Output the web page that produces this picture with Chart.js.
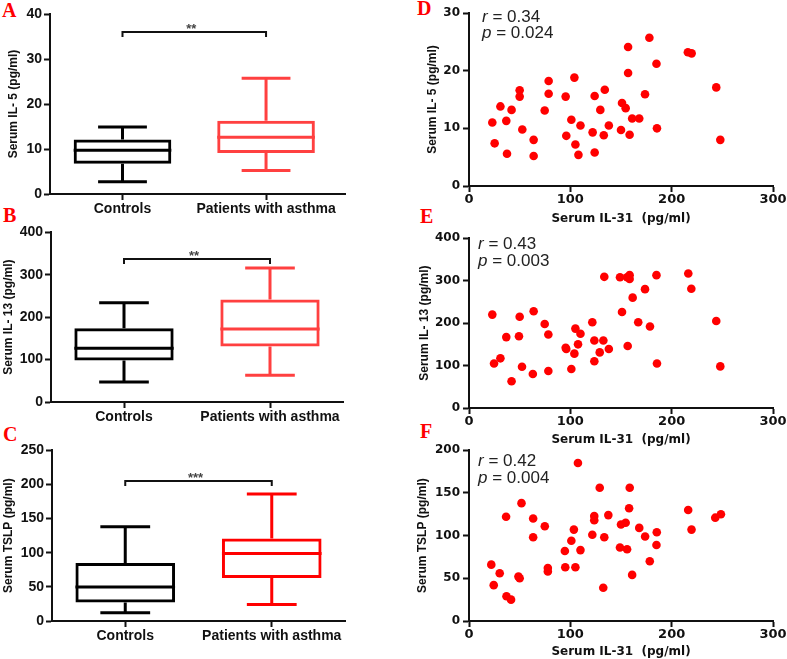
<!DOCTYPE html>
<html><head><meta charset="utf-8">
<script src="https://cdn.jsdelivr.net/npm/chart.js@4/dist/chart.umd.min.js"></script>
<style>
body{margin:0;background:#fff;width:787px;height:659px;position:relative;overflow:hidden}
canvas{position:absolute}
.lt{position:absolute;font:bold 20px "Liberation Serif","Times New Roman",serif;color:#f00;line-height:20px}
</style></head><body>
<div class="lt" style="left:2px;top:0px">A</div>
<div class="lt" style="left:3px;top:205px">B</div>
<div class="lt" style="left:3px;top:424px">C</div>
<div class="lt" style="left:417px;top:-2px">D</div>
<div class="lt" style="left:420px;top:206px">E</div>
<div class="lt" style="left:420px;top:421px">F</div>
<canvas id="cA" width="390" height="215" style="left:0;top:0"></canvas>
<canvas id="cB" width="390" height="210" style="left:0;top:222px"></canvas>
<canvas id="cC" width="390" height="219" style="left:0;top:440px"></canvas>
<canvas id="cD" width="382" height="228" style="left:405px;top:0"></canvas>
<canvas id="cE" width="382" height="220" style="left:405px;top:228px"></canvas>
<canvas id="cF" width="382" height="219" style="left:405px;top:440px"></canvas>
<script>
// ---- data ----
const groups = ['Controls', 'Patients with asthma'];
// [min, q1, median, q3, max]
const il5Controls = [2.7, 6.7, 9.7, 12.1, 14.9];
const il5Patients = [5.2, 9.1, 12.6, 16.3, 25.7];
const il13Controls = [47, 98, 127, 174, 234];
const il13Patients = [63, 131, 172, 242, 316];
const tslpControls = [12, 27, 50, 85, 138];
const tslpPatients = [24, 63, 99, 121, 186];
const sigLabels = ['**', '**', '***'];
const sigLevels = [36, 337, 205];

const boxYTitles = ['Serum IL- 5 (pg/ml)', 'Serum IL- 13 (pg/ml)', 'Serum TSLP (pg/ml)'];
const boxYMax = [40, 400, 250];
const boxYStep = [10, 100, 50];

const il31D = [23,25.3,31,36.8,37.5,42,50,50,52.6,63.8,63.8,74.7,78.6,78.6,95.4,96,101,104,105,108,110,122,124,124,129.6,133,134,138,150,151,154.6,157,157,158.5,161,168,173.7,178,185,185.5,216,219.7,244,248];
const il5D = [11.0,7.4,13.8,11.3,5.6,13.2,16.6,15.5,9.8,8.0,5.2,13.1,18.2,16.0,15.5,8.7,11.5,18.8,7.2,5.4,10.5,9.3,15.6,5.8,13.2,8.8,16.7,10.5,9.7,14.4,13.5,24.1,19.6,8.9,11.7,11.7,15.9,25.7,21.2,10.0,23.2,23.0,17.1,8.0];

const il31E = [23,24.7,31,36.8,42,50,49.3,52.3,63.8,63,74.7,78.3,78.3,95.4,96,101,104,105,107.6,110,121.7,123.7,123.7,129,132.6,133.5,138,149,151,156,156.6,158.5,158.5,161.5,167,173.7,178.6,185,185.5,216.4,219.4,244,248];
const il13E = [220,105,117,167,63,215,169,97,228,80,198,173,87,142,139,92,128,187,150,175,202,159,110,131,159,309,139,308,226,308,146,313,304,260,202,280,192,313,105,317,281,205,98];

const il31F = [22,24.4,30.3,36.6,37,41.5,48.8,50,51.8,63.3,63.3,74.8,77.8,77.8,94.6,95,101,103.5,105,107.5,110,121.7,123.6,123.6,129,132.5,133.5,137.5,149,150,154.6,156,158,158.6,161,168,173.8,178.4,185,185.3,216.3,219.6,243,248.6];
const tslpF = [66,42,56,122,29,25,52,50,138,120,98,111,62,58,82,63,94,107,63,185,83,101,123,118,156,39,98,124,86,113,115,84,132,156,54,109,99,70,89,104,130,107,121,125];

const corrR = ['0.34', '0.43', '0.42'];
const corrP = ['0.024', '0.003', '0.004'];
const scatterYTitles = ['Serum IL- 5 (pg/ml)', 'Serum IL- 13 (pg/ml)', 'Serum TSLP (pg/ml)'];
const scatterYMax = [30, 400, 200];
const scatterYStep = [10, 100, 50];
const scatterXTitle = 'Serum IL-31  (pg/ml)';

// ---- helpers ----
const SANS = '"Liberation Sans", Arial, sans-serif';
const DEJA = '"DejaVu Sans", sans-serif';

const boxPlugin = {
  id: 'boxExtras',
  afterDatasetsDraw(chart, args, o) {
    const {ctx} = chart; const y = chart.scales.y;
    const meta = chart.getDatasetMeta(0);
    o.stats.forEach((s, i) => {
      const bar = meta.data[i]; const cx = bar.x; const w = bar.width;
      ctx.save(); ctx.strokeStyle = o.colors[i]; ctx.lineWidth = 3; ctx.lineCap = 'butt';
      const p = s.map(v => y.getPixelForValue(v));
      ctx.beginPath();
      ctx.moveTo(cx - w / 2, p[2]); ctx.lineTo(cx + w / 2, p[2]);
      ctx.moveTo(cx, p[3]); ctx.lineTo(cx, p[4]);
      ctx.moveTo(cx, p[1]); ctx.lineTo(cx, p[0]);
      ctx.moveTo(cx - w / 4, p[4]); ctx.lineTo(cx + w / 4, p[4]);
      ctx.moveTo(cx - w / 4, p[0]); ctx.lineTo(cx + w / 4, p[0]);
      ctx.stroke(); ctx.restore();
    });
    const x1 = meta.data[0].x, x2 = meta.data[1].x, by = y.getPixelForValue(o.sigLevel);
    ctx.save(); ctx.strokeStyle = '#111'; ctx.lineWidth = 2;
    ctx.beginPath(); ctx.moveTo(x1, by + 5); ctx.lineTo(x1, by); ctx.lineTo(x2, by); ctx.lineTo(x2, by + 5); ctx.stroke();
    ctx.fillStyle = '#444'; ctx.font = 'bold 13px ' + SANS; ctx.textAlign = 'center'; ctx.textBaseline = 'alphabetic';
    ctx.fillText(o.sigLabel, (x1 + x2) / 2 - 3, by + 1);
    ctx.restore();
  }
};

function boxChart(id, idx, ctrl, pat, patColor, lay) {
  new Chart(document.getElementById(id), {
    type: 'bar',
    data: { datasets: [{
      data: [{x: 1, y: [ctrl[1], ctrl[3]]}, {x: 2, y: [pat[1], pat[3]]}],
      backgroundColor: 'rgba(0,0,0,0)', borderColor: ['#000', patColor], borderWidth: 3,
      borderSkipped: false, barPercentage: 0.68, categoryPercentage: 1
    }]},
    options: {
      responsive: false, animation: false, events: [],
      layout: { autoPadding: false, padding: {top: lay.top, left: 0, right: lay.right, bottom: 0} },
      plugins: { legend: {display: false}, tooltip: {enabled: false},
        boxExtras: { stats: [ctrl, pat], colors: ['#000', patColor], sigLevel: sigLevels[idx], sigLabel: sigLabels[idx] } },
      scales: {
        x: { type: 'linear', min: lay.xmin, max: lay.xmax, offset: false,
          afterBuildTicks: s => { s.ticks = [{value: 1}, {value: 2}]; },
          afterFit: s => { s.height = lay.xh; },
          ticks: { callback: v => groups[v - 1], color: '#111', font: {family: SANS, size: 14, weight: 'bold'}, padding: 1, maxRotation: 0, autoSkip: false },
          grid: { display: true, drawOnChartArea: false, drawTicks: true, tickLength: 6, tickWidth: 2, tickColor: '#111', offset: false },
          border: { display: true, color: '#111', width: 2 } },
        y: { min: 0, max: boxYMax[idx],
          afterFit: s => { s.width = lay.yw; },
          ticks: { stepSize: boxYStep[idx], color: '#111', font: {family: SANS, size: 14, weight: 'bold'}, padding: 2 },
          grid: { display: true, drawOnChartArea: false, drawTicks: true, tickLength: 6, tickWidth: 2, tickColor: '#111' },
          border: { display: true, color: '#111', width: 2 },
          title: { display: true, text: boxYTitles[idx], color: '#111', font: {family: SANS, size: 12, weight: 'bold'}, padding: {top: lay.tp, bottom: 0} } }
      }
    },
    plugins: [boxPlugin]
  });
}

boxChart('cA', 0, il5Controls, il5Patients, '#ff4040', {top: 14, right: 45, xh: 21, yw: 50, xmin: 0.495, xmax: 2.55, tp: 6});
boxChart('cB', 1, il13Controls, il13Patients, '#ff4040', {top: 9, right: 47, xh: 30, yw: 51, xmin: 0.5, xmax: 2.5, tp: 1});
boxChart('cC', 2, tslpControls, tslpPatients, '#ff0000', {top: 8, right: 45, xh: 38, yw: 52, xmin: 0.5, xmax: 2.5, tp: 1});

const corrPlugin = {
  id: 'corrText',
  afterDraw(chart, args, o) {
    const {ctx, chartArea: a} = chart;
    ctx.save(); ctx.fillStyle = '#222'; ctx.textBaseline = 'middle'; ctx.textAlign = 'left';
    const line = (letter, rest, x, y) => {
      ctx.font = 'italic 17px ' + SANS; ctx.fillText(letter, x, y);
      const w = ctx.measureText(letter).width;
      ctx.font = '17px ' + SANS; ctx.fillText(' = ' + rest, x + w, y);
    };
    line('r', o.r, a.left + o.dx, a.top + o.dy1);
    line('p', o.p, a.left + o.dx, a.top + o.dy2);
    ctx.restore();
  }
};

function scatterChart(id, idx, xs, ys, lay) {
  new Chart(document.getElementById(id), {
    type: 'scatter',
    data: { datasets: [{ data: xs.map((v, i) => ({x: v, y: ys[i]})),
      backgroundColor: '#ff0000', borderWidth: 0, pointRadius: 4.3 }] },
    options: {
      responsive: false, animation: false, events: [],
      layout: { autoPadding: false, padding: {top: lay.top, left: 0, right: 14, bottom: 0} },
      plugins: { legend: {display: false}, tooltip: {enabled: false},
        corrText: { r: corrR[idx], p: corrP[idx], dx: lay.dx, dy1: lay.dy1, dy2: lay.dy2 } },
      scales: {
        x: { type: 'linear', min: 0, max: 300,
          afterFit: s => { s.height = lay.xh; },
          ticks: { stepSize: 100, color: '#111', font: {family: DEJA, size: 13, weight: 'bold'}, padding: 0, maxRotation: 0 },
          grid: { display: true, drawOnChartArea: false, drawTicks: true, tickLength: 6, tickWidth: 2, tickColor: '#111' },
          border: { display: true, color: '#111', width: 2 },
          title: { display: true, text: scatterXTitle, color: '#111', font: {family: DEJA, size: 12, weight: 'bold'}, padding: {top: 0, bottom: lay.xtp} } },
        y: { min: 0, max: scatterYMax[idx],
          afterFit: s => { s.width = 64; },
          ticks: { stepSize: scatterYStep[idx], color: '#111', font: {family: DEJA, size: 12, weight: 'bold'}, padding: 3 },
          grid: { display: true, drawOnChartArea: false, drawTicks: true, tickLength: 6, tickWidth: 2, tickColor: '#111' },
          border: { display: true, color: '#111', width: 2 },
          title: { display: true, text: scatterYTitles[idx], color: '#111', font: {family: SANS, size: 12, weight: 'bold'}, padding: {top: lay.tp, bottom: 0} } }
      }
    },
    plugins: [corrPlugin]
  });
}

scatterChart('cD', 0, il31D, il5D, {top: 13, xh: 42, xtp: 2, tp: 20, dx: 13, dy1: 4.5, dy2: 20.5});
scatterChart('cE', 1, il31E, il13E, {top: 10, xh: 40, xtp: 1, tp: 12, dx: 9, dy1: 6.5, dy2: 23});
scatterChart('cF', 2, il31F, tslpF, {top: 8, xh: 38, xtp: 0, tp: 10, dx: 9, dy1: 11.5, dy2: 28});
</script>
</body></html>
